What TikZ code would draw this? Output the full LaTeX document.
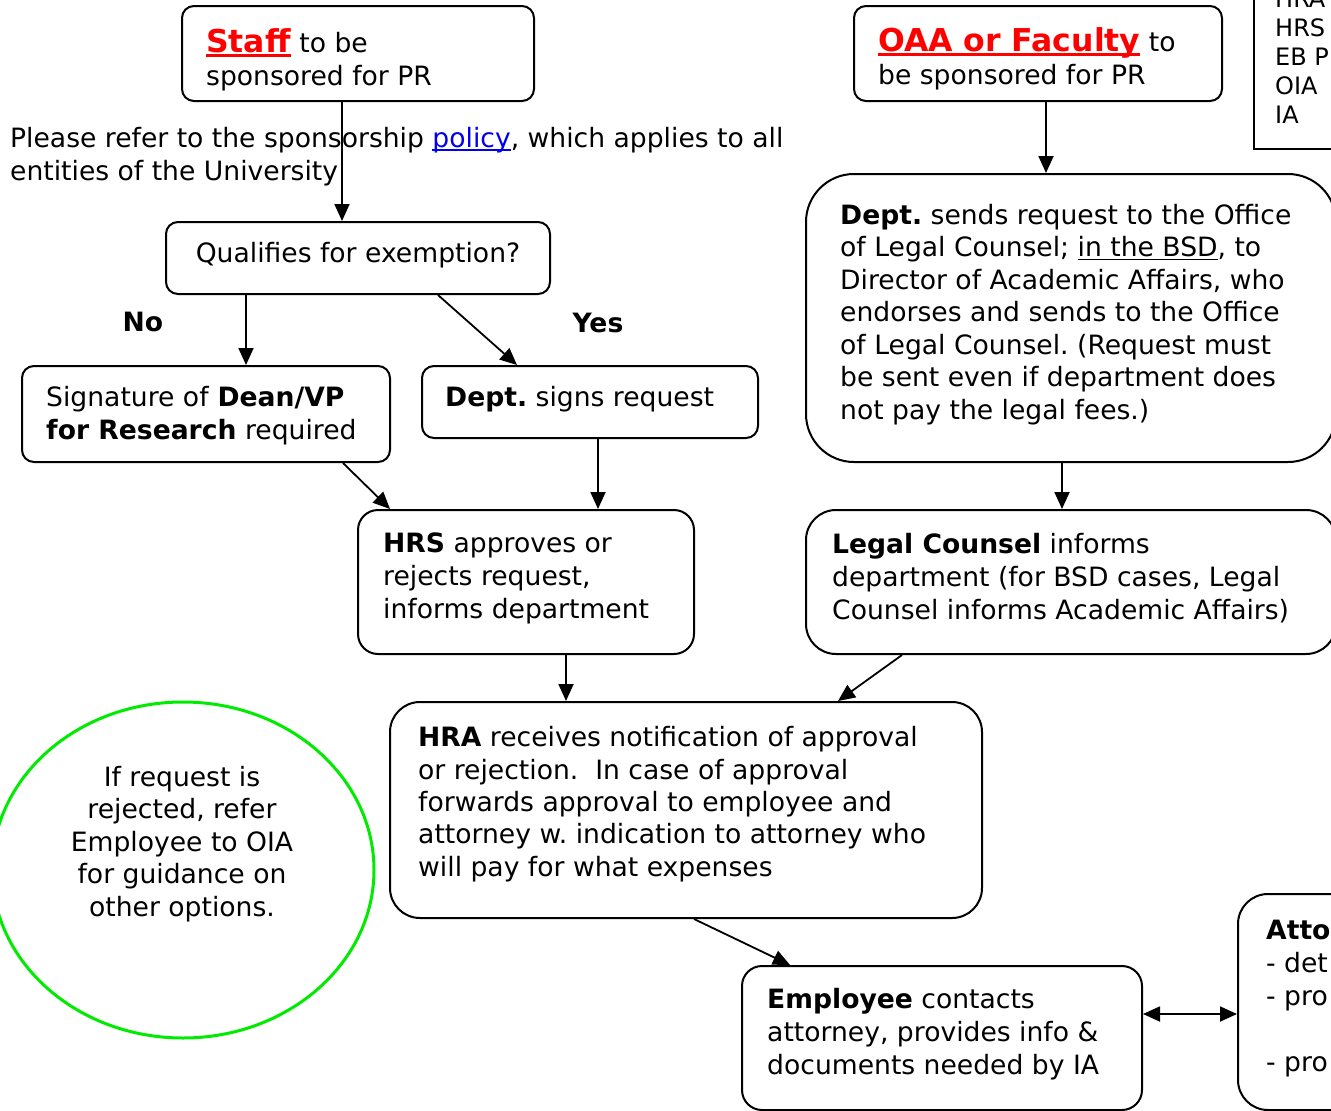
\documentclass[tikz,border=0pt]{standalone}
\usepackage{fontspec}
\setmainfont{DejaVu Sans}
\usetikzlibrary{arrows.meta,shapes.geometric}
\definecolor{linkblue}{RGB}{0,0,238}
\definecolor{brightgreen}{RGB}{0,235,0}
\newcommand\ulx[1]{\setbox0=\hbox{#1}\rlap{\rule[-0.15em]{\wd0}{0.075em}}\box0}
\newcommand\bigfont{\fontsize{31.5}{33}\selectfont}
\frenchspacing
\begin{document}
\begin{tikzpicture}[x=1pt,y=-1pt,
  box/.style={draw, line width=2pt, rounded corners=12pt, inner sep=0pt},
  txt/.style={inner sep=0pt, align=left, anchor=base west, font=\fontsize{26.6}{33}\selectfont},
  ctxt/.style={inner sep=0pt, align=center, anchor=base, font=\fontsize{26.6}{33}\selectfont},
  arr/.style={line width=1.8pt, -{Triangle[length=17pt,width=15pt]}},
  darr/.style={line width=1.8pt, {Triangle[length=17pt,width=15pt]}-{Triangle[length=17pt,width=15pt]}},
]
\useasboundingbox (0,0) rectangle (1331,1111);

% boxes
\node[box, minimum width=352pt, minimum height=95pt] (staff) at (358,53.5) {};
\node[box, minimum width=368pt, minimum height=95pt] (oaa) at (1038,53.5) {};
\node[draw, line width=2pt, inner sep=0pt, minimum width=146pt, minimum height=199pt] (legend) at (1327,49.5) {};
\node[box, minimum width=384pt, minimum height=72pt] (qual) at (358,258) {};
\node[box, minimum width=368pt, minimum height=96pt] (sig) at (206,414) {};
\node[box, minimum width=336pt, minimum height=72pt] (dsign) at (590,402) {};
\node[box, rounded corners=20pt, minimum width=336pt, minimum height=144pt] (hrs) at (526,582) {};
\node[box, rounded corners=48pt, minimum width=530pt, minimum height=288pt] (dsend) at (1071,318) {};
\node[box, rounded corners=30pt, minimum width=530pt, minimum height=144pt] (legal) at (1071,582) {};
\node[box, rounded corners=30pt, minimum width=592pt, minimum height=216pt] (hra) at (686,810) {};
\node[draw=brightgreen, line width=3pt, ellipse, inner sep=0pt, minimum width=382pt, minimum height=336pt] (circ) at (183,870) {};
\node[box, rounded corners=20pt, minimum width=400pt, minimum height=144pt] (emp) at (942,1038) {};
\node[box, rounded corners=30pt, minimum width=162pt, minimum height=216pt] (att) at (1319,1002) {};

% texts (anchored at the baseline of their last line)
\node[txt] (tstaff) at (206,85) {{\color{red}\bigfont\ulx{\textbf{Staff}}} to be\\sponsored for PR};
\node[txt] (toaa) at (878,84) {{\color{red}\bigfont\ulx{\textbf{OAA or Faculty}}} to\\be sponsored for PR};
\node[txt, font=\fontsize{24}{29}\selectfont] (tlegend) at (1275,123) {HRA\\HRS\\EB P\\OIA\\IA};
\node[txt] (tplease) at (10,180) {Please refer to the sponsorship {\color{linkblue}\ulx{policy}}, which applies to all\\entities of the University};
\node[ctxt] (tqual) at (358,262) {Qualifies for exemption?};
\node[ctxt] (tno) at (143,331) {\textbf{No}};
\node[ctxt] (tyes) at (598,332) {\textbf{Yes}};
\node[txt] (tsig) at (46,439) {Signature of \textbf{Dean/VP}\\\textbf{for Research} required};
\node[txt] (tdsign) at (445,406) {\textbf{Dept.} signs request};
\node[txt] (thrs) at (383,618) {\textbf{HRS} approves or\\rejects request,\\informs department};
\node[txt, font=\fontsize{26.6}{32.5}\selectfont] (tdsend) at (840,419) {\textbf{Dept.} sends request to the Office\\of Legal Counsel; \ulx{in the BSD}, to\\Director of Academic Affairs, who\\endorses and sends to the Office\\of Legal Counsel. (Request must\\be sent even if department does\\not pay the legal fees.)};
\node[txt] (tlegal) at (832,619) {\textbf{Legal Counsel} informs\\department (for BSD cases, Legal\\Counsel informs Academic Affairs)};
\node[txt, font=\fontsize{26.6}{32.3}\selectfont] (thra) at (418,876) {\textbf{HRA} receives notification of approval\\or rejection.\ \ In case of approval\\forwards approval to employee and\\attorney w. indication to attorney who\\will pay for what expenses};
\node[ctxt, font=\fontsize{26.6}{32.5}\selectfont] (tcirc) at (182,916) {If request is\\rejected, refer\\Employee to OIA\\for guidance on\\other options.};
\node[txt] (temp) at (767,1074) {\textbf{Employee} contacts\\attorney, provides info \&\\documents needed by IA};
\node[txt] (tatt) at (1266,1071) {\textbf{Atto}\\- det\\- pro\\[33pt]- pro};

% connectors
\draw[arr] ([xshift=-16pt]staff.south) -- ([xshift=-16pt]qual.north);
\draw[arr] ([xshift=-112pt]qual.south) -- ([xshift=40pt]sig.north);
\draw[arr] ([xshift=80pt]qual.south) -- ([xshift=-73pt]dsign.north);
\draw[arr] ([xshift=137pt]sig.south) -- ([xshift=-136pt]hrs.north);
\draw[arr] ([xshift=8pt]dsign.south) -- ([xshift=72pt]hrs.north);
\draw[arr] ([xshift=8pt]oaa.south) -- ([xshift=-25pt]dsend.north);
\draw[arr] ([xshift=-9pt]dsend.south) -- ([xshift=-9pt]legal.north);
\draw[arr] ([xshift=40pt]hrs.south) -- ([xshift=-120pt]hra.north);
\draw[arr] ([xshift=-169pt]legal.south) -- ([xshift=152pt]hra.north);
\draw[arr] ([xshift=8pt]hra.south) -- ([xshift=-152pt]emp.north);
\draw[darr] ([yshift=24pt]emp.east) -- ([yshift=-12pt]att.west);
\end{tikzpicture}
\end{document}
